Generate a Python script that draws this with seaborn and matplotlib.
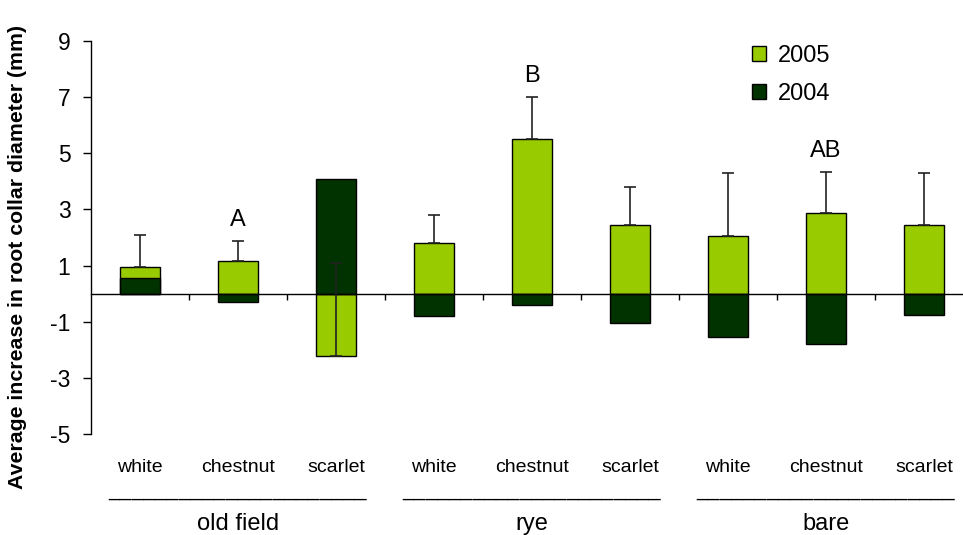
import matplotlib
matplotlib.use("Agg")
import matplotlib.pyplot as plt
import seaborn as sns
import numpy as np
import pandas as pd

# Treatments and species
groups = ["old field", "rye", "bare"]
species = ["white", "chestnut", "scarlet"]

# Mean increase in root collar diameter (mm)
inc_2005 = [0.95, 1.16, -2.21, 1.80, 5.52, 2.45, 2.06, 2.86, 2.45]
inc_2004 = [0.56, -0.31, 4.07, -0.81, -0.40, -1.06, -1.56, -1.81, -0.75]
# Upper error for 2005 means
err_2005 = [1.15, 0.70, 3.31, 1.01, 1.48, 1.36, 2.23, 1.46, 1.84]
# Significance letters (bar index -> letter)
sig_letters = {1: "A", 4: "B", 7: "AB"}
yticks = [-5, -3, -1, 1, 3, 5, 7, 9]

sns.set_theme(style="white")
plt.rcParams["font.family"] = ["Liberation Sans", "DejaVu Sans"]
plt.rcParams.update({"text.color": "black", "axes.labelcolor": "black",
                     "xtick.color": "black", "ytick.color": "black"})

keys = [f"{g}|{s}" for g in groups for s in species]
df = pd.DataFrame({
    "plot": keys * 2,
    "value": inc_2005 + inc_2004,
    "year": ["2005"] * 9 + ["2004"] * 9,
})

fig = plt.figure(figsize=(9.63, 5.35), dpi=100)
W, H = 963, 535
ax = fig.add_axes([91 / W, 1 - 434 / H, (963 - 91) / W, (434 - 41) / H])

sns.barplot(data=df, x="plot", y="value", hue="year", order=keys,
            hue_order=["2005", "2004"], palette=["#99CC00", "#003300"],
            saturation=1, dodge=False, width=0.4, errorbar=None,
            edgecolor="black", linewidth=1.0, ax=ax, zorder=2)

x = np.arange(9)
ax.errorbar(x, inc_2005, yerr=[np.zeros(9), err_2005], fmt="none",
            ecolor="#222222", elinewidth=1.2, capsize=4.5, capthick=1.2,
            zorder=4)

ax.set_ylim(-5, 9)
ax.set_xlim(-0.5, -0.5 + 872 / 98)
ax.set_yticks(yticks)
ax.set_yticklabels([str(t) for t in yticks], fontsize=16.5)
ax.set_xticks(np.arange(0.5, 8, 1.0))
ax.set_xticklabels([])
ax.tick_params(axis="y", direction="out", length=5.8, width=1, color="black",
               labelcolor="black", left=True, pad=9)
ax.tick_params(axis="x", direction="out", length=4, width=1, color="black",
               bottom=True)
for side in ["top", "right"]:
    ax.spines[side].set_visible(False)
ax.spines["bottom"].set_position(("data", 0))
ax.spines["bottom"].set_zorder(3)
for side in ["left", "bottom"]:
    ax.spines[side].set_color("black")
    ax.spines[side].set_linewidth(1.0)
ax.set_xlabel("")
ax.set_ylabel("")

# Significance letters
for i, letter in sig_letters.items():
    ax.text(i, inc_2005[i] + err_2005[i] + 0.75, letter, ha="center",
            va="center", fontsize=17, color="black")

# Species labels, underline and treatment labels below the axis
for i, key in enumerate(keys):
    ax.text(i, -6.2, key.split("|")[1], ha="center", va="center",
            fontsize=14, color="black", clip_on=False)
for j, g in enumerate(groups):
    xc = 3 * j + 1
    ax.text(xc, -7.0, "_" * 22, ha="center", va="center", fontsize=15.2,
            color="black", clip_on=False)
    ax.text(xc, -8.2, g, ha="center", va="center", fontsize=17,
            color="black", clip_on=False)

fig.text(18 / W, 1 - 257 / H,
         "Average increase in root collar diameter (mm)",
         rotation=90, ha="center", va="center", fontsize=15.3,
         fontweight="bold", color="black")

handles, labels = ax.get_legend_handles_labels()
leg = ax.legend(handles, labels, loc="upper left",
                bbox_to_anchor=(731 / W, 1 - 24 / H),
                bbox_transform=fig.transFigure, frameon=False, fontsize=17,
                handlelength=0.6, handleheight=0.6, handletextpad=0.5,
                labelspacing=0.65)
for t in leg.get_texts():
    t.set_color("black")

fig.savefig("out.png", dpi=100, facecolor="white")
